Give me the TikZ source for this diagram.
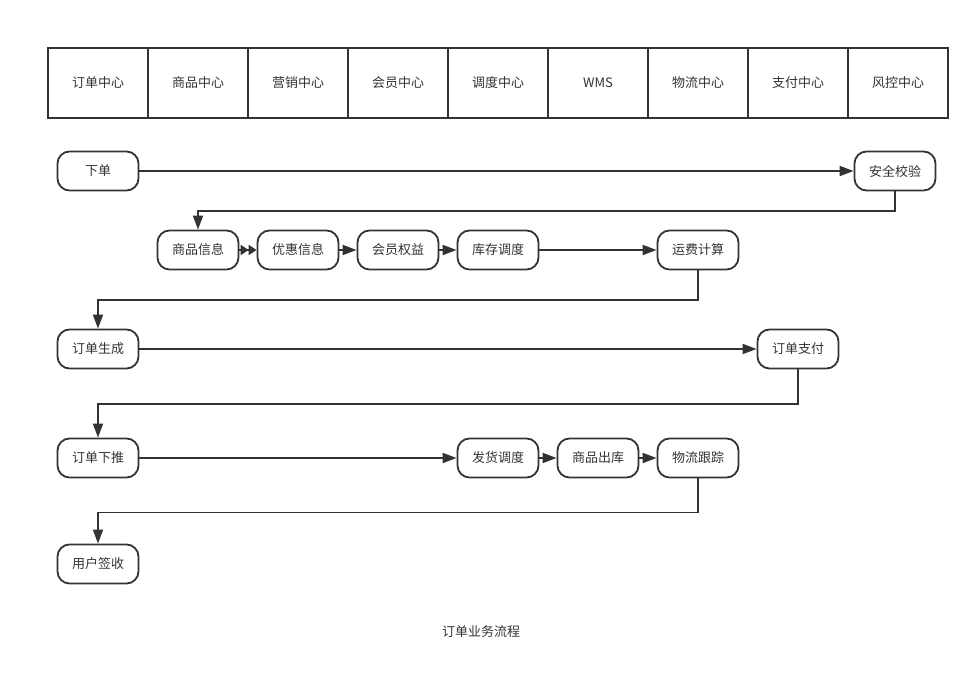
\documentclass[tikz,border=0pt]{standalone}
\usepackage{fontspec}
\setmainfont{Noto Sans CJK SC}
\usetikzlibrary{arrows.meta}
\definecolor{ink}{HTML}{333333}
\tikzset{->/.style = {-{Triangle[length=14pt,width=10pt]}},
         ->>/.style = {-{Triangle[length=8pt,width=10pt]Triangle[length=8pt,width=10pt]}},
         cell/.style = {draw, minimum width=100pt, minimum height=70pt, inner sep=0pt},
         proc/.style = {draw, rounded corners=12pt, minimum width=81pt, minimum height=39pt, inner sep=0pt}}

\begin{document}
\begin{tikzpicture}[x=1pt, y=-1pt, line width=1.8pt, draw=ink, text=ink, font=\fontsize{13}{15}\selectfont]
\useasboundingbox (0,0) rectangle (980,684);
\foreach \name [count=\i] in {订单中心,商品中心,营销中心,会员中心,调度中心,WMS,物流中心,支付中心,风控中心}
  \node [cell] (c\i) at (-2+100*\i, 83) {\name};
% 下单
\node [proc] (order) at (98,171) {下单};
\node [proc] (check) at (895,171) {安全校验};
\draw [->] (order) -- (check);
% 商品信息
\node [proc] (goods) at (198,250) {商品信息};
\node [proc] (promo) at (298,250) {优惠信息};
\node [proc] (member) at (398,250) {会员权益};
\node [proc] (stock) at (498,250) {库存调度};
\node [proc] (freight) at (698,250) {运费计算};
\draw [->] (check.south) -- ++(0,20) -| (goods.north);
\draw [->>] (goods) -- (promo);
\draw [->] (promo) -- (member);
\draw [->] (member) -- (stock);
\draw [->] (stock) -- (freight);
% 订单生成
\node [proc] (create) at (98,349) {订单生成};
\node [proc] (pay) at (798,349) {订单支付};
\draw [->] (freight.south) -- ++(0,30) -| (create.north);
\draw [->] (create) -- (pay);
% 订单下推
\node [proc] (push) at (98,458) {订单下推};
\node [proc] (ship) at (498,458) {发货调度};
\node [proc] (out) at (598,458) {商品出库};
\node [proc] (track) at (698,458) {物流跟踪};
\draw [->] (pay.south) -- ++(0,35) -| (push.north);
\draw [->] (push) -- (ship);
\draw [->] (ship) -- (out);
\draw [->] (out) -- (track);
% 用户签收
\node [proc] (sign) at (98,564) {用户签收};
\draw [->] (track.south) -- ++(0,34) -| (sign.north);
\node (title) at (481,632) {订单业务流程};
\end{tikzpicture}
\end{document}
